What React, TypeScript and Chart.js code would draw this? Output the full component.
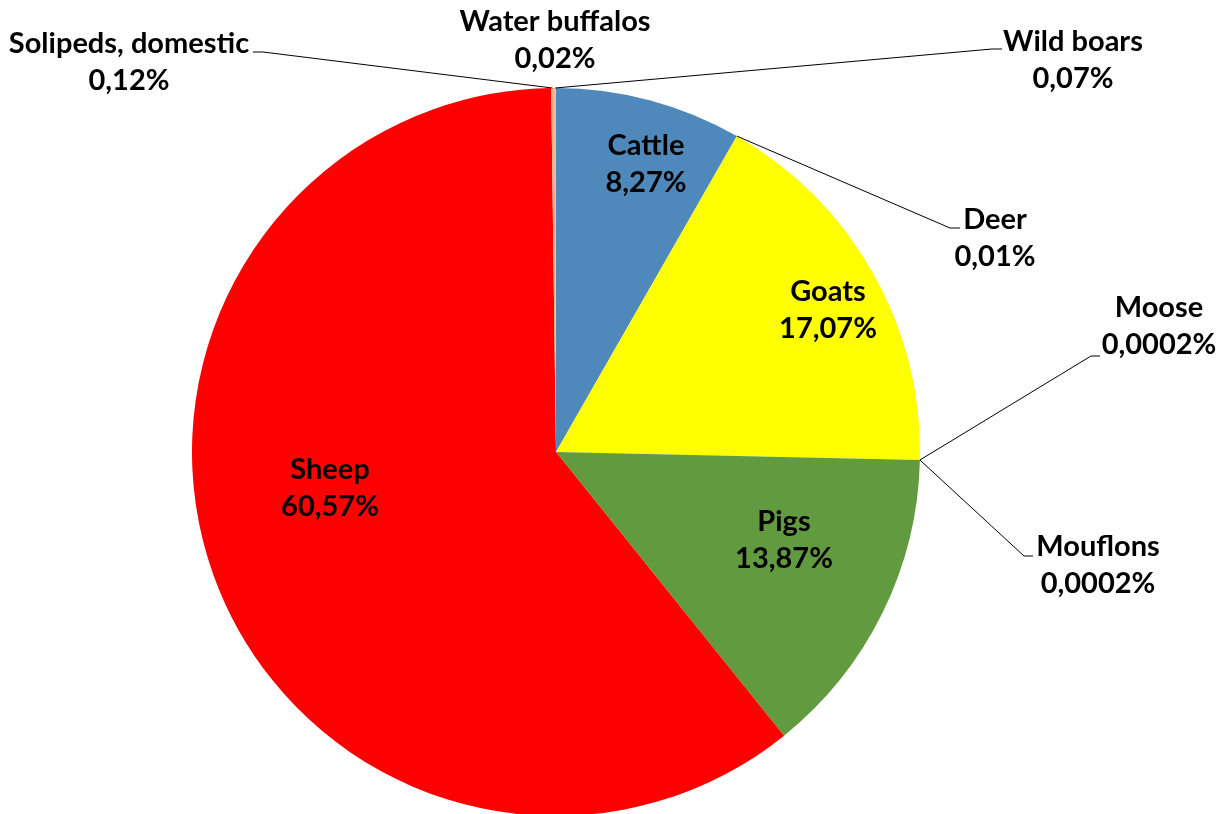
import React, { useEffect, useRef } from "react";
import { Chart, registerables } from "chart.js";

Chart.register(...registerables);

const categories = [
  "Cattle",
  "Deer",
  "Goats",
  "Moose",
  "Mouflons",
  "Pigs",
  "Sheep",
  "Solipeds, domestic",
  "Water buffalos",
  "Wild boars",
];
const shares = [8.27, 0.01, 17.07, 0.0002, 0.0002, 13.87, 60.57, 0.12, 0.02, 0.07];
const colors = [
  "#4F88BB",
  "#9BBB59",
  "#FFFF00",
  "#8064A2",
  "#4BACC6",
  "#629A40",
  "#FF0000",
  "#F4B183",
  "#C0504D",
  "#FAC090",
];

// Label layout: offsets from pie centre (px). tick = [sideX, sideY, tickEndX]
type Lay = { dx: number; dy: number; tick?: [number, number, number] };
const LABEL_LAYOUT: Record<string, Lay> = {
  Cattle: { dx: 90, dy: -288 },
  Goats: { dx: 272, dy: -142 },
  Pigs: { dx: 228, dy: 88 },
  Sheep: { dx: -226, dy: 36 },
  "Water buffalos": { dx: -1, dy: -412 },
  "Solipeds, domestic": { dx: -427, dy: -390, tick: [-303, -400, -293] },
  "Wild boars": { dx: 517, dy: -392, tick: [446, -403, 436] },
  Deer: { dx: 439, dy: -214, tick: [404, -224, 394] },
  Moose: { dx: 603, dy: -126, tick: [544, -96, 535] },
  Mouflons: { dx: 542, dy: 113, tick: [477, 104, 468] },
};

const FONT = "bold 29px Lato";
const LINE_H = 37;

function fmt(v: number): string {
  const d = v < 0.01 ? 4 : 2;
  return v.toFixed(d).replace(".", ",") + "%";
}

const labelPlugin = {
  id: "pieLabels",
  afterDraw(chart: any) {
    const ctx = chart.ctx;
    const meta = chart.getDatasetMeta(0);
    ctx.save();
    meta.data.forEach((arc: any, i: number) => {
      const name = categories[i];
      const lay = LABEL_LAYOUT[name];
      if (!lay) return;
      const p = arc.getProps(["x", "y", "startAngle", "endAngle", "outerRadius"], true);
      const cx = p.x;
      const cy = p.y;
      if (lay.tick) {
        const mid = (p.startAngle + p.endAngle) / 2;
        const ex = cx + Math.cos(mid) * p.outerRadius;
        const ey = cy + Math.sin(mid) * p.outerRadius;
        ctx.beginPath();
        ctx.strokeStyle = "#000";
        ctx.lineWidth = 1;
        ctx.moveTo(ex, ey);
        ctx.lineTo(cx + lay.tick[2], cy + lay.tick[1]);
        ctx.lineTo(cx + lay.tick[0], cy + lay.tick[1]);
        ctx.stroke();
      }
      ctx.fillStyle = "#000";
      ctx.font = FONT;
      ctx.textAlign = "center";
      ctx.textBaseline = "middle";
      const tx = cx + lay.dx;
      const ty = cy + lay.dy;
      ctx.fillText(name, tx, ty - LINE_H / 2);
      ctx.fillText(fmt(shares[i]), tx, ty + LINE_H / 2);
    });
    ctx.restore();
  },
};

export default function App() {
  const ref = useRef<HTMLCanvasElement>(null);
  useEffect(() => {
    document.body.style.margin = "0";
    const chart = new Chart(ref.current!, {
      type: "pie",
      data: {
        labels: categories,
        datasets: [
          {
            data: shares,
            backgroundColor: colors,
            borderWidth: 0,
          },
        ],
      },
      options: {
        responsive: false,
        animation: false,
        layout: { padding: { left: 192, right: 303, top: 88, bottom: 14 } },
        plugins: {
          legend: { display: false },
          tooltip: { enabled: false },
        },
      },
      plugins: [labelPlugin],
    });
    return () => chart.destroy();
  }, []);
  return (
    <div
      style={{
        position: "fixed",
        left: 0,
        top: 0,
        width: 1223,
        height: 814,
        overflow: "hidden",
        background: "#fff",
      }}
    >
      <canvas ref={ref} width={1223} height={830} style={{ display: "block" }} />
    </div>
  );
}
